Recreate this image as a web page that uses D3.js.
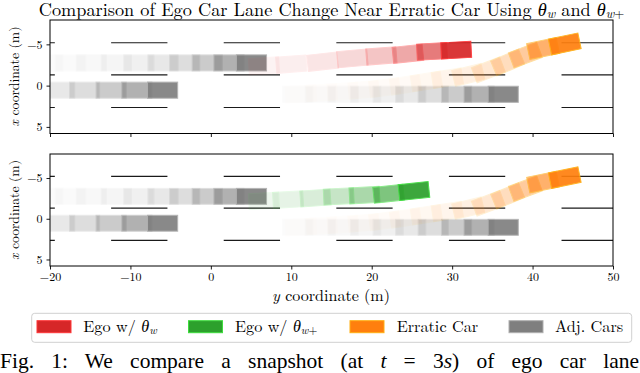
<!DOCTYPE html>
<html>
<head>
<meta charset="utf-8">
<script src="https://cdn.jsdelivr.net/npm/d3@7"></script>
<style>
  body { margin: 0; background: #fff; }
</style>
</head>
<body>
<svg id="chart" width="640" height="373"></svg>
<script>
// road: lateral position of lane markings and the dashes along the road
const laneLines = [-5.2, -1.3, 2.65];
const dashStarts = [-26.4, -12.4, 1.6, 15.6, 29.6, 43.6];
const dashLength = 7;

const xTicks = [-20, -10, 0, 10, 20, 30, 40, 50];
const yTicks = [-5, 0, 5];

// car trajectories (oldest first): along-road y and lateral x centres
const adjUpperY = [-20.3, -17.45, -14.85, -11.75, -8.95, -5.95, -3.25, -0.45, 2.25, 5.05];
const adjUpperX = [-2.75, -2.75, -2.75, -2.75, -2.75, -2.75, -2.75, -2.75, -2.75, -2.75];
const adjLeftY = [-25.2, -22.0, -18.8, -15.7, -12.4, -9.2, -6.0];
const adjLeftX = [0.55, 0.55, 0.55, 0.55, 0.55, 0.55, 0.55];
const adjRightY = [10.8, 13.6, 16.45, 19.25, 22.05, 24.85, 27.65, 30.55, 33.35, 36.35];
const adjRightX = [1.05, 1.05, 1.05, 1.05, 1.05, 1.05, 1.05, 1.05, 1.05, 1.05];
const erraticY = [11.2, 13.8, 16.4, 19.0, 21.6, 24.2, 26.8, 29.4, 32.0, 34.5, 36.9, 39.1, 41.3, 44.0];
const erraticX = [1.0, 0.85, 0.7, 0.5, 0.25, -0.1, -0.5, -0.9, -1.3, -1.9, -2.8, -3.7, -4.5, -5.05];
const egoWY = [6.6, 10.0, 13.9, 17.6, 21.2, 24.5, 27.5, 30.5];
const egoWX = [-2.4, -2.6, -2.9, -3.3, -3.6, -3.85, -4.15, -4.3];
const egoWPlusY = [6.6, 9.6, 13.0, 15.9, 19.1, 22.1, 25.25];
const egoWPlusX = [-2.2, -2.35, -2.55, -2.75, -2.9, -3.07, -3.4];

const carLength = 3.75, carWidth = 1.95;

const legendLabels = ['Ego w/ θw', 'Ego w/ θw+', 'Erratic Car', 'Adj. Cars'];
const colors = { red: '#d62728', green: '#2ca02c', orange: '#ff7f0e', gray: '#7f7f7f' };

const LM = '"Latin Modern Roman", "Liberation Serif", serif';
const TIMES = '"Liberation Serif", "Times New Roman", serif';

const svg = d3.select('#chart');
const x = d3.scaleLinear().domain([-20, 50]).range([50, 613]);

const panels = [
  { top: 20, bottom: 133.5, labelY: 76.5, egoY: egoWY, egoX: egoWX, egoColor: colors.red },
  { top: 154, bottom: 266, labelY: 210, egoY: egoWPlusY, egoX: egoWPlusX, egoColor: colors.green }
];

function addText(parent, size, family) {
  return parent.append('text').style('font-family', family || LM)
    .style('font-size', size + 'px').attr('fill', '#000');
}

// scale a text's font-size so it spans the wanted width
function fitWidth(t, target) {
  const fs = parseFloat(t.style('font-size'));
  const w = t.node().getComputedTextLength();
  t.style('font-size', (fs * target / w) + 'px');
}

function drawCar(g, y, Y, X, color) {
  const n = Y.length;
  const pts = Y.map((v, i) => [x(v), y(X[i])]);
  const kx = Math.abs(x(1) - x(0)), ky = Math.abs(y(1) - y(0));
  pts.forEach((p, i) => {
    const a = i < n - 1 ? pts[i + 1] : p;
    const b = i < n - 1 ? p : pts[i - 1];
    const ang = Math.atan2(a[1] - b[1], a[0] - b[0]) * 180 / Math.PI;
    const op = 0.92 * Math.pow(0.66, n - 1 - i);
    const w = carLength * kx, h = carWidth * ky;
    g.append('rect')
      .attr('transform', `translate(${p[0]},${p[1]}) rotate(${ang})`)
      .attr('x', -w / 2).attr('y', -h / 2)
      .attr('width', w).attr('height', h)
      .attr('fill', color)
      .attr('stroke', d3.color(color).brighter(0.9))
      .attr('stroke-width', 1)
      .attr('opacity', op);
  });
}

panels.forEach((p, pi) => {
  const y = d3.scaleLinear().domain([-7.95, 5.8]).range([p.top, p.bottom]);
  const clipId = 'clip' + pi;
  svg.append('clipPath').attr('id', clipId)
    .append('rect').attr('x', 50).attr('y', p.top).attr('width', 563).attr('height', p.bottom - p.top);

  const g = svg.append('g').attr('clip-path', `url(#${clipId})`);

  // lane markings
  laneLines.forEach(l => {
    dashStarts.forEach(s => {
      g.append('line')
        .attr('x1', x(s)).attr('x2', x(s + dashLength))
        .attr('y1', y(l)).attr('y2', y(l))
        .attr('stroke', '#1a1a1a').attr('stroke-width', 1.1);
    });
  });

  drawCar(g, y, adjUpperY, adjUpperX, colors.gray);
  drawCar(g, y, adjLeftY, adjLeftX, colors.gray);
  drawCar(g, y, adjRightY, adjRightX, colors.gray);
  drawCar(g, y, p.egoY, p.egoX, p.egoColor);
  drawCar(g, y, erraticY, erraticX, colors.orange);

  // axes
  const ax = svg.append('g').attr('transform', `translate(0,${p.bottom})`)
    .call(d3.axisBottom(x).tickValues(xTicks).tickSize(3.5).tickPadding(3)
      .tickFormat(pi === 1 ? d => d3.format('d')(d).replace('-', '−') : ''));
  const ay = svg.append('g').attr('transform', 'translate(50,0)')
    .call(d3.axisLeft(y).tickValues(yTicks).tickSize(3.5).tickPadding(4)
      .tickFormat(d => d3.format('d')(d).replace('-', '−')));
  [ax, ay].forEach(a => {
    a.select('.domain').remove();
    a.selectAll('line').attr('stroke', '#000').attr('stroke-width', 0.9);
    a.selectAll('text').style('font-family', LM).style('font-size', '12px').attr('fill', '#000');
  });
  svg.append('rect').attr('x', 50).attr('y', p.top).attr('width', 563)
    .attr('height', p.bottom - p.top).attr('fill', 'none')
    .attr('stroke', '#000').attr('stroke-width', 1);

  // y-axis label
  const yl = addText(svg, 14)
    .attr('transform', `translate(18.5,${p.labelY}) rotate(-90)`)
    .attr('text-anchor', 'middle');
  yl.append('tspan').attr('font-style', 'italic').text('x');
  yl.append('tspan').text(' coordinate (m)');
  fitWidth(yl, 100);
});

// title
const title = addText(svg, 15).attr('x', 331.5).attr('y', 15.5).attr('text-anchor', 'middle');
title.append('tspan').text('Comparison of Ego Car Lane Change Near Erratic Car Using ');
title.append('tspan').attr('font-style', 'italic').text('θ');
title.append('tspan').attr('font-style', 'italic').style('font-size', '0.7em').attr('dy', '0.2em').text('w');
title.append('tspan').attr('dy', '-0.14em').text(' and ');
title.append('tspan').attr('font-style', 'italic').text('θ');
title.append('tspan').attr('font-style', 'italic').style('font-size', '0.7em').attr('dy', '0.2em').text('w');
title.append('tspan').style('font-size', '0.7em').text('+');
fitWidth(title, 586);

// x-axis label
const xl = addText(svg, 15).attr('x', 331).attr('y', 300.5).attr('text-anchor', 'middle');
xl.append('tspan').attr('font-style', 'italic').text('y');
xl.append('tspan').text(' coordinate (m)');
fitWidth(xl, 118);

// legend
svg.append('rect').attr('x', 31.7).attr('y', 313.3).attr('width', 600).attr('height', 29)
  .attr('rx', 3).attr('fill', '#fff').attr('stroke', '#d0d0d0').attr('stroke-width', 1);
const legendColors = [colors.red, colors.green, colors.orange, colors.gray];
const legendX = [37, 188.5, 350, 509];
const legendTextX = [83.3, 235, 396.7, 555];
const legendTextW = [75, 0, 79, 69];
legendLabels.forEach((lab, i) => {
  svg.append('rect').attr('x', legendX[i]).attr('y', 320.7).attr('width', 34).attr('height', 12)
    .attr('fill', legendColors[i]).attr('stroke', d3.color(legendColors[i]).brighter(0.9)).attr('stroke-width', 1);
  const t = addText(svg, 14).attr('class', 'leg').attr('x', legendTextX[i]).attr('y', 331.5);
  const m = lab.match(/^(.*)θ(w\+?)$/);
  if (m) {
    t.append('tspan').text(m[1]);
    t.append('tspan').attr('font-style', 'italic').text('θ');
    t.append('tspan').attr('font-style', 'italic').style('font-size', '0.7em').attr('dy', '0.2em').text('w');
    if (m[2].endsWith('+')) t.append('tspan').style('font-size', '0.7em').text('+');
  } else {
    t.text(lab);
  }
});
// one common legend font size, from the widths of the plain labels
const legNodes = svg.selectAll('text.leg').nodes();
const ratios = [0, 2, 3].map(i => legendTextW[i] / legNodes[i].getComputedTextLength());
svg.selectAll('text.leg').style('font-size', (14 * d3.mean(ratios)) + 'px');

// caption line, justified over the full width
const cap = addText(svg, 21.5, TIMES).attr('x', 0).attr('y', 368);
cap.append('tspan').text('Fig. 1: We compare a snapshot (at ');
cap.append('tspan').attr('font-style', 'italic').text('t');
cap.append('tspan').text(' = 3');
cap.append('tspan').attr('font-style', 'italic').text('s');
cap.append('tspan').text(') of ego car lane');
let ws = (639 - cap.node().getComputedTextLength()) / 13;
cap.attr('word-spacing', ws);
ws += (639 - cap.node().getComputedTextLength()) / 13;
cap.attr('word-spacing', ws);
</script>
</body>
</html>
